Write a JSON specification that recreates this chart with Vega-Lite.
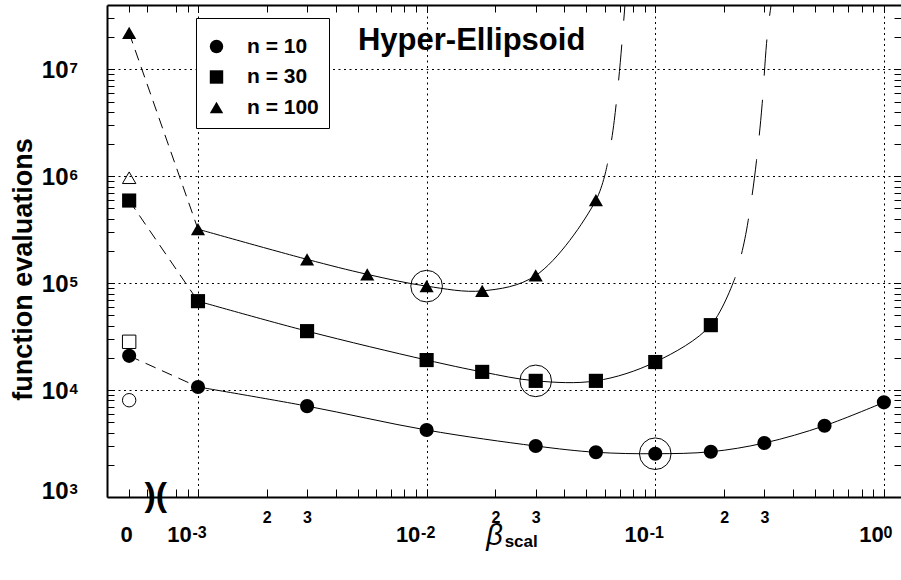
{
  "$schema": "https://vega.github.io/schema/vega-lite/v6.json",
  "width": 795,
  "height": 492,
  "autosize": {"type": "none"},
  "padding": {"left": 107, "top": 5, "right": 0, "bottom": 83},
  "background": "white",
  "config": {"view": {"stroke": null}, "font": "Liberation Sans"},
  "datasets": {
    "series": [
      {"n": "n = 10", "beta": 0.001, "evals": 10700, "marker": true, "opt": false},
      {"n": "n = 10", "beta": 0.003, "evals": 7080, "marker": true, "opt": false},
      {"n": "n = 10", "beta": 0.01, "evals": 4230, "marker": true, "opt": false},
      {"n": "n = 10", "beta": 0.03, "evals": 3000, "marker": true, "opt": false},
      {"n": "n = 10", "beta": 0.055, "evals": 2620, "marker": true, "opt": false},
      {"n": "n = 10", "beta": 0.1, "evals": 2540, "marker": true, "opt": true},
      {"n": "n = 10", "beta": 0.175, "evals": 2650, "marker": true, "opt": false},
      {"n": "n = 10", "beta": 0.3, "evals": 3200, "marker": true, "opt": false},
      {"n": "n = 10", "beta": 0.55, "evals": 4640, "marker": true, "opt": false},
      {"n": "n = 10", "beta": 1, "evals": 7680, "marker": true, "opt": false},
      {"n": "n = 30", "beta": 0.001, "evals": 67900, "marker": true, "opt": false},
      {"n": "n = 30", "beta": 0.003, "evals": 35600, "marker": true, "opt": false},
      {"n": "n = 30", "beta": 0.01, "evals": 19100, "marker": true, "opt": false},
      {"n": "n = 30", "beta": 0.0175, "evals": 14800, "marker": true, "opt": false},
      {"n": "n = 30", "beta": 0.03, "evals": 12200, "marker": true, "opt": true},
      {"n": "n = 30", "beta": 0.055, "evals": 12200, "marker": true, "opt": false},
      {"n": "n = 30", "beta": 0.1, "evals": 18300, "marker": true, "opt": false},
      {"n": "n = 30", "beta": 0.175, "evals": 40500, "marker": true, "opt": false},
      {"n": "n = 30", "beta": 0.2238, "evals": 113800, "marker": false, "opt": false},
      {"n": "n = 100", "beta": 0.001, "evals": 320000, "marker": true, "opt": false},
      {"n": "n = 100", "beta": 0.003, "evals": 167000, "marker": true, "opt": false},
      {"n": "n = 100", "beta": 0.0055, "evals": 121000, "marker": true, "opt": false},
      {"n": "n = 100", "beta": 0.01, "evals": 93800, "marker": true, "opt": true},
      {"n": "n = 100", "beta": 0.0175, "evals": 84700, "marker": true, "opt": false},
      {"n": "n = 100", "beta": 0.03, "evals": 118000, "marker": true, "opt": false},
      {"n": "n = 100", "beta": 0.055, "evals": 597000, "marker": true, "opt": false},
      {"n": "n = 100", "beta": 0.0618, "evals": 1315000, "marker": false, "opt": false}
    ],
    "extension": [
      {"n": "n = 30", "beta": 0.2238, "evals": 113800},
      {"n": "n = 30", "beta": 0.2551, "evals": 388000},
      {"n": "n = 30", "beta": 0.2773, "evals": 1410000},
      {"n": "n = 30", "beta": 0.2936, "evals": 4810000},
      {"n": "n = 30", "beta": 0.3067, "evals": 17500000},
      {"n": "n = 30", "beta": 0.3211, "evals": 40000000},
      {"n": "n = 100", "beta": 0.0618, "evals": 1315000},
      {"n": "n = 100", "beta": 0.0662, "evals": 3340000},
      {"n": "n = 100", "beta": 0.0703, "evals": 11600000},
      {"n": "n = 100", "beta": 0.0737, "evals": 40000000}
    ],
    "zero": [
      {"n": "n = 10", "evals": 20900, "filled": true, "next": 10700},
      {"n": "n = 10", "evals": 8040, "filled": false, "next": null},
      {"n": "n = 30", "evals": 593000, "filled": true, "next": 67900},
      {"n": "n = 30", "evals": 28300, "filled": false, "next": null},
      {"n": "n = 100", "evals": 21900000, "filled": true, "next": 320000},
      {"n": "n = 100", "evals": 969000, "filled": false, "next": null}
    ]
  },
  "resolve": {"axis": {"x": "independent", "y": "independent"}},
  "layer": [
    {
      "data": {"name": "series"},
      "mark": {"type": "line", "interpolate": "catmull-rom", "color": "black", "strokeWidth": 1},
      "encoding": {
        "x": {
          "field": "beta", "type": "quantitative",
          "scale": {"type": "log", "domain": [0.0004, 1.2], "nice": false},
          "axis": {
            "orient": "bottom",
            "values": [0.0005, 0.0006, 0.0008, 0.0009, 0.001, 0.002, 0.003, 0.004, 0.005, 0.006, 0.007, 0.008, 0.009, 0.01, 0.02, 0.03, 0.04, 0.05, 0.06, 0.07, 0.08, 0.09, 0.1, 0.2, 0.3, 0.4, 0.5, 0.6, 0.7, 0.8, 0.9, 1],
            "labelExpr": "datum.value == 0.0005 ? '0' : indexof([0.001, 0.01, 0.1, 1], datum.value) >= 0 ? '10' : indexof([0.002, 0.02, 0.2], datum.value) >= 0 ? '2' : indexof([0.003, 0.03, 0.3], datum.value) >= 0 ? '3' : ''",
            "grid": true,
            "gridColor": "black",
            "gridDash": [2, 3.5],
            "gridWidth": 1,
            "gridOpacity": {"condition": {"test": "indexof([0.001, 0.01, 0.1, 1], datum.value) >= 0", "value": 1}, "value": 0},
            "ticks": true,
            "tickSize": -8,
            "tickColor": "black",
            "tickWidth": 1,
            "domainColor": "black",
            "domainWidth": 2,
            "labelFont": "Liberation Sans",
            "labelFontWeight": "bold",
            "labelColor": "black",
            "labelAlign": "center",
            "labelBaseline": "alphabetic",
            "labelFontSize": {"condition": {"test": "indexof([0.002, 0.003, 0.02, 0.03, 0.2, 0.3], datum.value) >= 0", "value": 16}, "value": 22},
            "labelPadding": {"condition": {"test": "indexof([0.002, 0.003, 0.02, 0.03, 0.2, 0.3], datum.value) >= 0", "value": 33}, "value": 52},
            "labelOffset": {"condition": [
              {"test": "indexof([0.001, 0.01, 0.1], datum.value) >= 0", "value": -19},
              {"test": "datum.value == 1", "value": -13},
              {"test": "datum.value == 0.0005", "value": -3}
            ], "value": 0},
            "labelOverlap": false,
            "labelFlush": false,
            "labelBound": false,
            "title": null
          }
        },
        "y": {
          "field": "evals", "type": "quantitative",
          "scale": {"type": "log", "domain": [1000, 40000000], "nice": false},
          "axis": {
            "orient": "left",
            "values": [1000, 2000, 3000, 4000, 5000, 6000, 7000, 8000, 9000, 10000, 20000, 30000, 40000, 50000, 60000, 70000, 80000, 90000, 100000, 200000, 300000, 400000, 500000, 600000, 700000, 800000, 900000, 1000000, 2000000, 3000000, 4000000, 5000000, 6000000, 7000000, 8000000, 9000000, 10000000, 20000000, 30000000],
            "labelExpr": "indexof([1000, 10000, 100000, 1000000, 10000000], datum.value) >= 0 ? '10' : ''",
            "grid": true,
            "gridColor": "black",
            "gridDash": [2, 3.5],
            "gridWidth": 1,
            "gridOpacity": {"condition": {"test": "indexof([10000, 100000, 1000000, 10000000], datum.value) >= 0", "value": 1}, "value": 0},
            "tickSize": -7,
            "tickColor": "black",
            "tickWidth": 1,
            "domainColor": "black",
            "domainWidth": 2,
            "labelFont": "Liberation Sans",
            "labelFontWeight": "bold",
            "labelFontSize": 24,
            "labelColor": "black",
            "labelAlign": "right",
            "labelBaseline": "middle",
            "labelPadding": 46,
            "labelOffset": {"condition": {"test": "datum.value == 1000", "value": -6}, "value": 1},
            "labelOverlap": false,
            "labelFlush": false,
            "labelBound": false,
            "title": "function evaluations",
            "titleFont": "Liberation Sans",
            "titleFontSize": 27,
            "titleFontWeight": "bold",
            "titleColor": "black",
            "titleAngle": 270,
            "titleAlign": "center",
            "titleBaseline": "alphabetic",
            "titleX": -76,
            "titleY": 264
          }
        },
        "detail": {"field": "n", "type": "nominal"}
      }
    },
    {
      "data": {"name": "extension"},
      "mark": {"type": "line", "interpolate": "monotone", "color": "black", "strokeWidth": 1, "strokeDash": [36, 24], "strokeDashOffset": 36, "clip": true},
      "encoding": {
        "x": {
          "field": "beta", "type": "quantitative",
          "scale": {"type": "log", "domain": [0.0004, 1.2], "nice": false},
          "axis": {
            "orient": "top",
            "values": [0.0005, 0.0006, 0.0008, 0.0009, 0.001, 0.002, 0.003, 0.004, 0.005, 0.006, 0.007, 0.008, 0.009, 0.01, 0.02, 0.03, 0.04, 0.05, 0.06, 0.07, 0.08, 0.09, 0.1, 0.2, 0.3, 0.4, 0.5, 0.6, 0.7, 0.8, 0.9, 1],
            "labels": false,
            "grid": false,
            "tickSize": -7,
            "tickColor": "black",
            "tickWidth": 1,
            "domainColor": "black",
            "domainWidth": 2,
            "title": null
          }
        },
        "y": {
          "field": "evals", "type": "quantitative",
          "scale": {"type": "log", "domain": [1000, 40000000], "nice": false},
          "axis": {
            "orient": "right",
            "values": [1000, 2000, 3000, 4000, 5000, 6000, 7000, 8000, 9000, 10000, 20000, 30000, 40000, 50000, 60000, 70000, 80000, 90000, 100000, 200000, 300000, 400000, 500000, 600000, 700000, 800000, 900000, 1000000, 2000000, 3000000, 4000000, 5000000, 6000000, 7000000, 8000000, 9000000, 10000000, 20000000, 30000000],
            "labels": false,
            "grid": false,
            "tickSize": -8,
            "tickColor": "black",
            "tickWidth": 1,
            "domain": false,
            "title": null
          }
        },
        "detail": {"field": "n", "type": "nominal"}
      }
    },
    {
      "data": {"name": "zero"},
      "transform": [{"filter": "datum.filled"}],
      "mark": {"type": "rule", "color": "black", "strokeWidth": 1, "strokeDash": [11, 7]},
      "encoding": {
        "x": {"datum": 0.0005, "type": "quantitative", "axis": null},
        "x2": {"datum": 0.001},
        "y": {"field": "evals", "type": "quantitative", "axis": null},
        "y2": {"field": "next"}
      }
    },
    {
      "data": {"name": "series"},
      "transform": [{"filter": "datum.marker"}],
      "mark": {"type": "point", "filled": true, "color": "black", "strokeWidth": 0, "size": 200, "opacity": 1},
      "encoding": {
        "x": {"field": "beta", "type": "quantitative", "axis": null},
        "y": {"field": "evals", "type": "quantitative", "axis": null},
        "shape": {
          "field": "n", "type": "nominal",
          "scale": {"domain": ["n = 10", "n = 30", "n = 100"], "range": ["circle", "square", "triangle-up"]},
          "legend": {
            "orient": "none",
            "legendX": 89,
            "legendY": 13,
            "title": " ",
            "titleFontSize": 8,
            "titlePadding": 0,
            "padding": 10,
            "strokeColor": "black",
            "fillColor": "white",
            "symbolSize": 180,
            "symbolFillColor": "black",
            "symbolStrokeColor": "black",
            "symbolStrokeWidth": 0,
            "symbolOpacity": 1,
            "labelFont": "Liberation Sans",
            "labelFontSize": 21,
            "labelFontWeight": "bold",
            "labelColor": "black",
            "labelOffset": 20,
            "rowPadding": 8.5
          }
        }
      }
    },
    {
      "data": {"name": "zero"},
      "transform": [{"filter": "!datum.filled"}],
      "mark": {"type": "point", "filled": false, "color": "black", "strokeWidth": 1, "size": 180, "opacity": 1},
      "encoding": {
        "x": {"datum": 0.0005, "type": "quantitative", "axis": null},
        "y": {"field": "evals", "type": "quantitative", "axis": null},
        "shape": {"field": "n", "type": "nominal"}
      }
    },
    {
      "data": {"name": "zero"},
      "transform": [{"filter": "datum.filled"}],
      "mark": {"type": "point", "filled": true, "color": "black", "strokeWidth": 0, "size": 200, "opacity": 1},
      "encoding": {
        "x": {"datum": 0.0005, "type": "quantitative", "axis": null},
        "y": {"field": "evals", "type": "quantitative", "axis": null},
        "shape": {"field": "n", "type": "nominal"}
      }
    },
    {
      "data": {"name": "series"},
      "transform": [{"filter": "datum.opt"}],
      "mark": {"type": "point", "shape": "circle", "filled": false, "color": "black", "strokeWidth": 1, "size": 1000, "opacity": 1},
      "encoding": {
        "x": {
          "field": "beta", "type": "quantitative",
          "axis": {
            "orient": "bottom",
            "values": [0.001, 0.01, 0.1, 1],
            "labelExpr": "datum.value == 0.001 ? '-3' : datum.value == 0.01 ? '-2' : datum.value == 0.1 ? '-1' : '0'",
            "grid": false,
            "domain": false,
            "ticks": true,
            "tickSize": -8,
            "tickOpacity": 0,
            "labelFont": "Liberation Sans",
            "labelFontWeight": "bold",
            "labelFontSize": 16,
            "labelColor": "black",
            "labelAlign": "left",
            "labelBaseline": "alphabetic",
            "labelPadding": 48,
            "labelOffset": {"condition": {"test": "datum.value == 1", "value": -1}, "value": -6},
            "labelOverlap": false,
            "labelFlush": false,
            "labelBound": false,
            "title": null
          }
        },
        "y": {
          "field": "evals", "type": "quantitative",
          "axis": {
            "orient": "left",
            "values": [1000, 10000, 100000, 1000000, 10000000],
            "labelExpr": "datum.value == 1000 ? '3' : datum.value == 10000 ? '4' : datum.value == 100000 ? '5' : datum.value == 1000000 ? '6' : '7'",
            "grid": false,
            "domain": false,
            "ticks": true,
            "tickSize": -7,
            "tickOpacity": 0,
            "labelFont": "Liberation Sans",
            "labelFontWeight": "bold",
            "labelFontSize": 15,
            "labelColor": "black",
            "labelAlign": "left",
            "labelBaseline": "middle",
            "labelPadding": 45,
            "labelOffset": {"condition": {"test": "datum.value == 1000", "value": -9}, "value": -2},
            "labelOverlap": false,
            "labelFlush": false,
            "labelBound": false,
            "title": null
          }
        }
      }
    },
    {
      "data": {"values": [{}]},
      "mark": {"type": "text", "text": "Hyper-Ellipsoid", "font": "Liberation Sans", "fontSize": 31, "fontWeight": "bold", "color": "black", "align": "center", "baseline": "alphabetic"},
      "encoding": {
        "x": {"datum": 0.01574, "type": "quantitative", "axis": null},
        "y": {"datum": 15060000, "type": "quantitative", "axis": null}
      }
    },
    {
      "data": {"values": [{}]},
      "mark": {"type": "text", "text": ")", "font": "Liberation Sans", "fontSize": 34, "fontWeight": "bold", "color": "black", "align": "center", "baseline": "alphabetic"},
      "encoding": {
        "x": {"datum": 0.0006185, "type": "quantitative", "axis": null},
        "y": {"datum": 824, "type": "quantitative", "axis": null}
      }
    },
    {
      "data": {"values": [{}]},
      "mark": {"type": "text", "text": "(", "font": "Liberation Sans", "fontSize": 34, "fontWeight": "bold", "color": "black", "align": "center", "baseline": "alphabetic"},
      "encoding": {
        "x": {"datum": 0.0006912, "type": "quantitative", "axis": null},
        "y": {"datum": 824, "type": "quantitative", "axis": null}
      }
    },
    {
      "data": {"values": [{}]},
      "mark": {"type": "text", "text": "β", "font": "Liberation Sans", "fontSize": 29, "fontStyle": "italic", "fontWeight": "normal", "color": "black", "align": "center", "baseline": "alphabetic"},
      "encoding": {
        "x": {"datum": 0.01983, "type": "quantitative", "axis": null},
        "y": {"datum": 355.9, "type": "quantitative", "axis": null}
      }
    },
    {
      "data": {"values": [{}]},
      "mark": {"type": "text", "text": "scal", "font": "Liberation Sans", "fontSize": 17, "fontWeight": "bold", "color": "black", "align": "left", "baseline": "alphabetic"},
      "encoding": {
        "x": {"datum": 0.02194, "type": "quantitative", "axis": null},
        "y": {"datum": 340.9, "type": "quantitative", "axis": null}
      }
    }
  ]
}
